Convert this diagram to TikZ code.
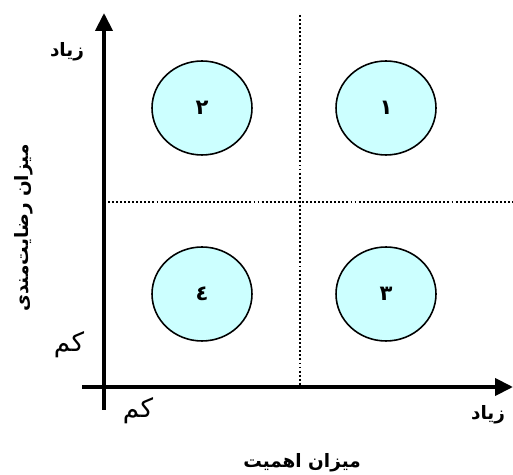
\documentclass[tikz,border=0pt]{standalone}
\usepackage{fontspec}
\usepackage{tikz}
\usetikzlibrary{arrows.meta,positioning,shapes.geometric}
\TeXXeTstate=1
\newfontfamily\arabicfont[Script=Arabic]{DejaVu Sans}
\definecolor{cellfill}{HTML}{CCFFFF}
\tikzset{
  axis/.style={-{Triangle[length=0.36cm,width=0.34cm]},line width=0.08cm},
  divider/.style={line width=0.7pt,dash pattern=on 1.1pt off 1.2pt},
  quad/.style={draw,ellipse,fill=cellfill,line width=0.9pt,minimum width=2cm,
    minimum height=1.88cm,font=\arabicfont\bfseries\fontsize{12}{14}\selectfont},
  boldlabel/.style={font=\arabicfont\bfseries\fontsize{10.5}{12}\selectfont,inner sep=0pt},
  thinlabel/.style={font=\arabicfont\fontsize{15}{17}\selectfont,inner sep=0pt}
}

\begin{document}
\begin{tikzpicture}[x=0.02cm,y=-0.02cm]
        \useasboundingbox (0,0) rectangle (513,475);
        % axes
        \coordinate (ybot) at (104,410);
        \coordinate (ytop) at (104,13);
        \coordinate (xleft) at (82,387);
        \coordinate (xright) at (513,387);
        \draw[axis] (ybot) -- (ytop);
        \draw[axis] (xleft) -- (xright);
        % quadrant borders
        \coordinate (vtop) at (300,15);
        \coordinate (vbot) at (300,387);
        \coordinate (hleft) at (104,202);
        \coordinate (hright) at (513,202);
        \draw[divider] (vtop) -- (vbot);
        \draw[divider] (hleft) -- (hright);
        % quadrants
        \node[quad] (q1) at (386,108) {١};
        \node[quad] (q2) at (202,108) {٢};
        \node[quad] (q3) at (386,294) {٣};
        \node[quad] (q4) at (202,294) {٤};
        % labels
        \node[boldlabel] (yhigh) at (67,52) {\beginR زیاد\endR};
        \node[thinlabel] (ylow) at (69,345) {\beginR کم\endR};
        \node[boldlabel,rotate=90] (ytitle) at (24,228) {\beginR میزان رضایت‌مندی\endR};
        \node[thinlabel] (xlow) at (138,411) {\beginR کم\endR};
        \node[boldlabel] (xhigh) at (488,415) {\beginR زیاد\endR};
        \node[boldlabel] (xtitle) at (302,463) {\beginR میزان اهمیت\endR};
      \end{tikzpicture}
\end{document}
